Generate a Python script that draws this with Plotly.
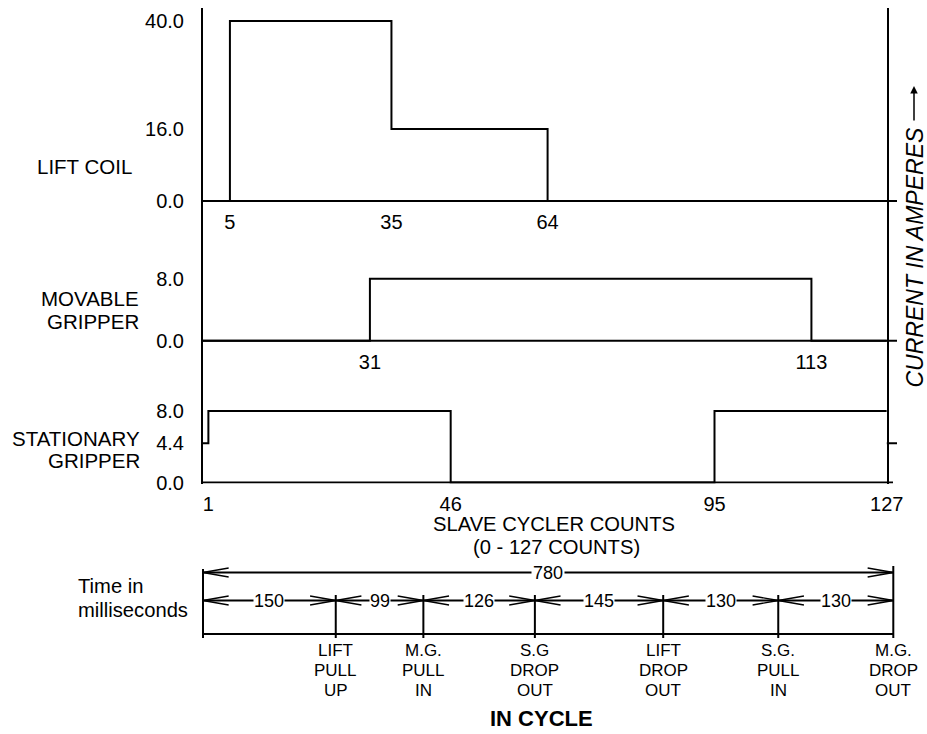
import plotly.graph_objects as go

W, H = 927, 734
FONT = "Liberation Sans, Arial, Helvetica, sans-serif"

# ---------------- data ----------------
lift_counts = [0, 5, 35, 64, 127]
lift_amps = [0.0, 40.0, 16.0, 0.0, 0.0]
mg_counts = [0, 31, 113, 127]
mg_amps = [0.0, 8.0, 0.0, 0.0]
sg_counts = [0, 1, 46, 95, 127]
sg_amps = [4.4, 8.0, 0.0, 8.0, 8.0]

lift_amp_ticks = [0.0, 16.0, 40.0]
mg_amp_ticks = [0.0, 8.0]
sg_amp_ticks = [0.0, 4.4, 8.0]

lift_count_ticks = [5, 35, 64]
mg_count_ticks = [31, 113]
sg_count_ticks = [1, 46, 95, 127]

panel_names = [["LIFT COIL"], ["MOVABLE", "GRIPPER"], ["STATIONARY", "GRIPPER"]]

phase_ms = [150, 99, 126, 145, 130, 130]
phase_events = [["LIFT", "PULL", "UP"], ["M.G.", "PULL", "IN"], ["S.G", "DROP", "OUT"],
                ["LIFT", "DROP", "OUT"], ["S.G.", "PULL", "IN"], ["M.G.", "DROP", "OUT"]]
total_ms = 780
count_max = 127


# ---------------- layout helpers (pixel -> paper) ----------------
def px(x):
    return x / W


def py(y):
    return 1 - y / H


def yrange(top, bottom, zero, ppa):
    return [-(bottom - zero) / ppa, (zero - top) / ppa]


CX0, CX1 = 203, 886.8          # count axis pixel extent (0 .. 127)
panels = [
    dict(top=8, bottom=270, zero=201, ppa=4.5),
    dict(top=270, bottom=395, zero=340.7, ppa=7.75),
    dict(top=395, bottom=483.5, zero=482.5, ppa=8.94),
]

fig = go.Figure()

series = [(lift_counts, lift_amps), (mg_counts, mg_amps), (sg_counts, sg_amps)]
amp_ticks = [lift_amp_ticks, mg_amp_ticks, sg_amp_ticks]
count_ticks = [lift_count_ticks, mg_count_ticks, sg_count_ticks]

for i, (cx, cy) in enumerate(series):
    sfx = "" if i == 0 else str(i + 1)
    fig.add_trace(go.Scatter(x=cx, y=cy, mode="lines", line=dict(color="black", width=2, shape="hv"),
                             xaxis="x" + sfx, yaxis="y" + sfx, showlegend=False, hoverinfo="skip"))
    p = panels[i]
    fig.layout["yaxis" + sfx] = dict(
        domain=[py(p["bottom"]), py(p["top"])], range=yrange(p["top"], p["bottom"], p["zero"], p["ppa"]),
        anchor="x" + sfx, showline=True, linecolor="black", linewidth=2, mirror=True,
        ticks="", tickvals=amp_ticks[i], ticktext=[f"{v:.1f}" for v in amp_ticks[i]],
        tickfont=dict(family=FONT, size=20, color="black"), ticklabelstandoff=13,
        showgrid=False, zeroline=False, automargin=False)
    fig.layout["xaxis" + sfx] = dict(
        domain=[px(CX0), px(CX1)], range=[0, count_max], anchor="free", position=py(p["zero"]),
        showline=False, ticks="", tickvals=count_ticks[i], ticktext=[str(v) for v in count_ticks[i]],
        tickfont=dict(family=FONT, size=20, color="black"), ticklabelstandoff=7,
        showgrid=False, zeroline=False, automargin=False)

shapes = []
for i, x_end in enumerate([897, 897, 893]):
    sfx = "" if i == 0 else str(i + 1)
    shapes.append(dict(type="line", xref="paper", yref="y" + sfx, x0=px(CX0), x1=px(x_end), y0=0, y1=0,
                       line=dict(color="black", width=2)))
shapes.append(dict(type="line", xref="paper", yref="y3", x0=px(CX1), x1=px(897),
                   y0=sg_amps[0], y1=sg_amps[0], line=dict(color="black", width=2)))

annotations = []


def note(text, x, y, size, xref="paper", xanchor="center", **kw):
    d = dict(text=text, x=x, y=y, xref=xref, yref="paper", xanchor=xanchor, yanchor="middle",
             showarrow=False, font=dict(family=FONT, size=size, color="black"))
    d.update(kw)
    annotations.append(d)


name_pos = [([166.5], 133.5), ([298, 321.7], 140.5), ([438.3, 460.5], 141.5)]
for lines, (ys, xr) in zip(panel_names, name_pos):
    for t, yy in zip(lines, ys):
        note(t, px(xr), py(yy), 20.5, xanchor="right")

note("SLAVE CYCLER COUNTS", px(553.5), py(523.5), 20.2)
note("(0 - 127 COUNTS)", px(556), py(547), 20.2)

note("<i>CURRENT IN AMPERES</i>", px(914.5), py(258), 23, textangle=-90)
annotations.append(dict(text="", x=px(914), y=py(86), xref="paper", yref="paper", ax=0, ay=36,
                        showarrow=True, arrowhead=2, arrowsize=1, arrowwidth=1.5, arrowcolor="black"))

# ---------------- timeline (milliseconds) ----------------
TX0, TX1 = 203, 893.3
pad = 12
scale = (TX1 - TX0) / total_ms
fig.layout["xaxis4"] = dict(domain=[px(TX0 - pad * scale), px(TX1 + pad * scale)], range=[-pad, total_ms + pad],
                            anchor="y5", visible=False, automargin=False)
fig.layout["yaxis5"] = dict(domain=[0, 0.05], range=[0, 1], anchor="x4", visible=False, automargin=False)

bounds = [0]
for d in phase_ms:
    bounds.append(bounds[-1] + d)

fig.add_trace(go.Scatter(x=bounds, y=[-1] * len(bounds), mode="markers", marker=dict(size=1, opacity=0),
                         xaxis="x4", yaxis="y5", showlegend=False, hoverinfo="skip"))

ROW_TOP, ROW_MID, ROW_BOT = 572.5, 600.5, 634
LINE = dict(color="black", width=2)
THIN = dict(color="black", width=1.3)
for yy in (ROW_TOP, ROW_MID, ROW_BOT):
    shapes.append(dict(type="line", xref="x4", yref="paper", x0=0, x1=total_ms, y0=py(yy), y1=py(yy), line=LINE))
shapes.append(dict(type="line", xref="x4", yref="paper", x0=0, x1=0, y0=py(569), y1=py(638), line=LINE))
shapes.append(dict(type="line", xref="x4", yref="paper", x0=total_ms, x1=total_ms, y0=py(566), y1=py(638),
                   line=LINE))
for b in bounds[1:-1]:
    shapes.append(dict(type="line", xref="x4", yref="paper", x0=b, x1=b, y0=py(595), y1=py(638), line=LINE))

CHEV_L = 29      # ms
CHEV_H = 4.5     # px


def chevron(tip, row, direction):
    back = tip - direction * CHEV_L
    return dict(type="path", xref="x4", yref="paper",
                path=f"M {back},{py(row - CHEV_H)} L {tip},{py(row)} L {back},{py(row + CHEV_H)}",
                line=THIN)


shapes.append(chevron(0, ROW_TOP, -1))
shapes.append(chevron(total_ms, ROW_TOP, 1))
for a, b in zip(bounds[:-1], bounds[1:]):
    shapes.append(chevron(a, ROW_MID, -1))
    shapes.append(chevron(b, ROW_MID, 1))

note(str(total_ms), total_ms / 2, py(ROW_TOP), 18, xref="x4", bgcolor="white", borderpad=1)
for a, b, d in zip(bounds[:-1], bounds[1:], phase_ms):
    note(str(d), (a + b) / 2, py(ROW_MID), 18, xref="x4", bgcolor="white", borderpad=0)
for b, lines in zip(bounds[1:], phase_events):
    for j, t in enumerate(lines):
        note(t, b, py(650 + 20.3 * j), 17, xref="x4")

note("Time in", px(76), py(586), 20.2, xanchor="left")
note("milliseconds", px(76), py(610), 20.2, xanchor="left")
note("<b>IN CYCLE</b>", px(541), py(718), 22)

fig.update_layout(template="none", width=W, height=H, autosize=False,
                  margin=dict(l=0, r=0, t=0, b=0, pad=0),
                  paper_bgcolor="white", plot_bgcolor="white", shapes=shapes, annotations=annotations,
                  showlegend=False, font=dict(family=FONT, color="black"))

fig.write_html("out.html", config={"displayModeBar": False, "responsive": False},
               post_script="document.body.style.margin='0px';document.body.style.padding='0px';"
                           "document.documentElement.style.overflow='hidden';")
